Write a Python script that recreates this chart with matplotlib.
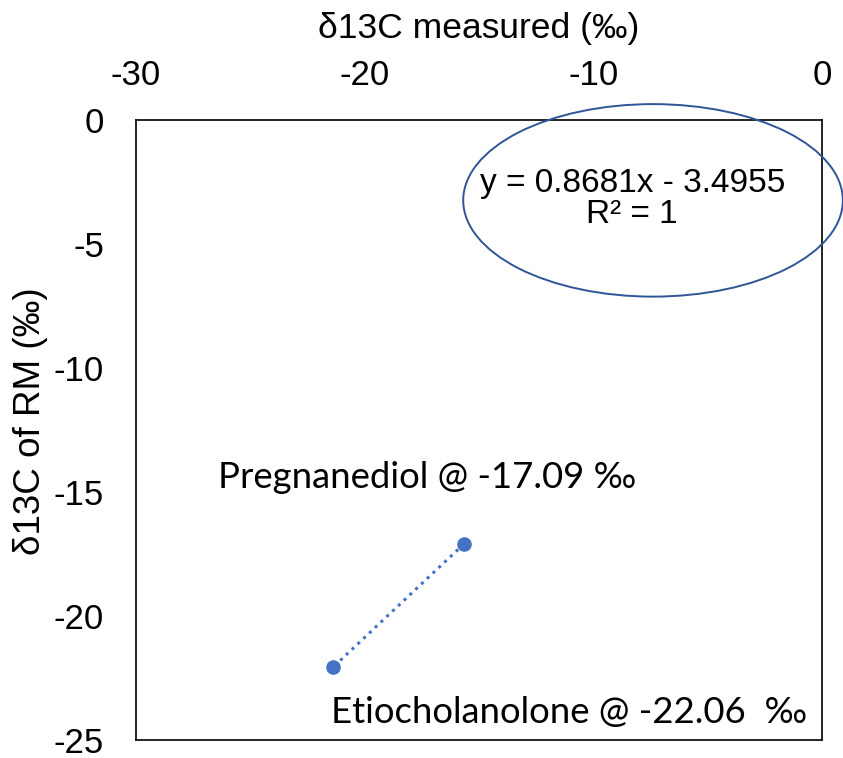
import numpy as np
import matplotlib.pyplot as plt
from matplotlib.patches import Ellipse

plt.rcParams['font.family'] = ['Liberation Sans', 'DejaVu Sans']
plt.rcParams['axes.unicode_minus'] = False

# reference material compounds: measured vs RM delta13C
compounds = ['Pregnanediol', 'Etiocholanolone']
d13c_rm = np.array([-17.09, -22.06])
slope, intercept = 0.8681, -3.4955
d13c_measured = (d13c_rm - intercept) / slope

x_ticks = [-30, -20, -10, 0]
y_ticks = [0, -5, -10, -15, -20, -25]

fig = plt.figure(figsize=(8.43, 7.58), dpi=100)
ax = fig.add_axes([0.1613, 0.0235, 0.8138, 0.8182])

ax.plot(d13c_measured, d13c_rm, linestyle=(0, (1, 1.6)), color='#4472C4', lw=2.2,
        marker='o', markersize=10.5, markeredgewidth=0, zorder=3)

ax.set_xlim(-30, 0)
ax.set_ylim(-25, 0)
ax.set_xticks(x_ticks)
ax.set_yticks(y_ticks)
ax.xaxis.tick_top()
ax.xaxis.set_label_position('top')
ax.tick_params(axis='both', length=0, labelsize=25)
ax.tick_params(axis='x', pad=20)
ax.tick_params(axis='y', pad=23)
ax.set_xlabel('δ13C measured (‰)', fontsize=25.5, labelpad=15)
ax.set_ylabel('δ13C of RM (‰)', fontsize=26.5, labelpad=2)
ax.yaxis.set_label_coords(-0.128, 0.515)
for s in ax.spines.values():
    s.set_linewidth(1.2)
    s.set_color('black')

# point labels
lab_font = dict(family=['Lato', 'DejaVu Sans'], fontsize=26.3)
ax.text(-26.4, d13c_rm[0] + 2.25, f'{compounds[0]} @ {d13c_rm[0]:.2f} ‰', **lab_font)
ax.text(-21.45, -24.3, f'{compounds[1]} @ {d13c_rm[1]:.2f}  ‰', **lab_font)

# trendline equation, circled
ax.text(-8.3, -3.2, f'y = {slope}x - {abs(intercept)}\nR² = 1', fontsize=24,
        ha='center', va='center', linespacing=1.0)
ax.add_patch(Ellipse((-7.39, -3.24), 16.6, 7.76, fill=False, edgecolor='#2F5597',
                     lw=1.4, clip_on=False, zorder=4))

fig.savefig('out.png', dpi=100)
